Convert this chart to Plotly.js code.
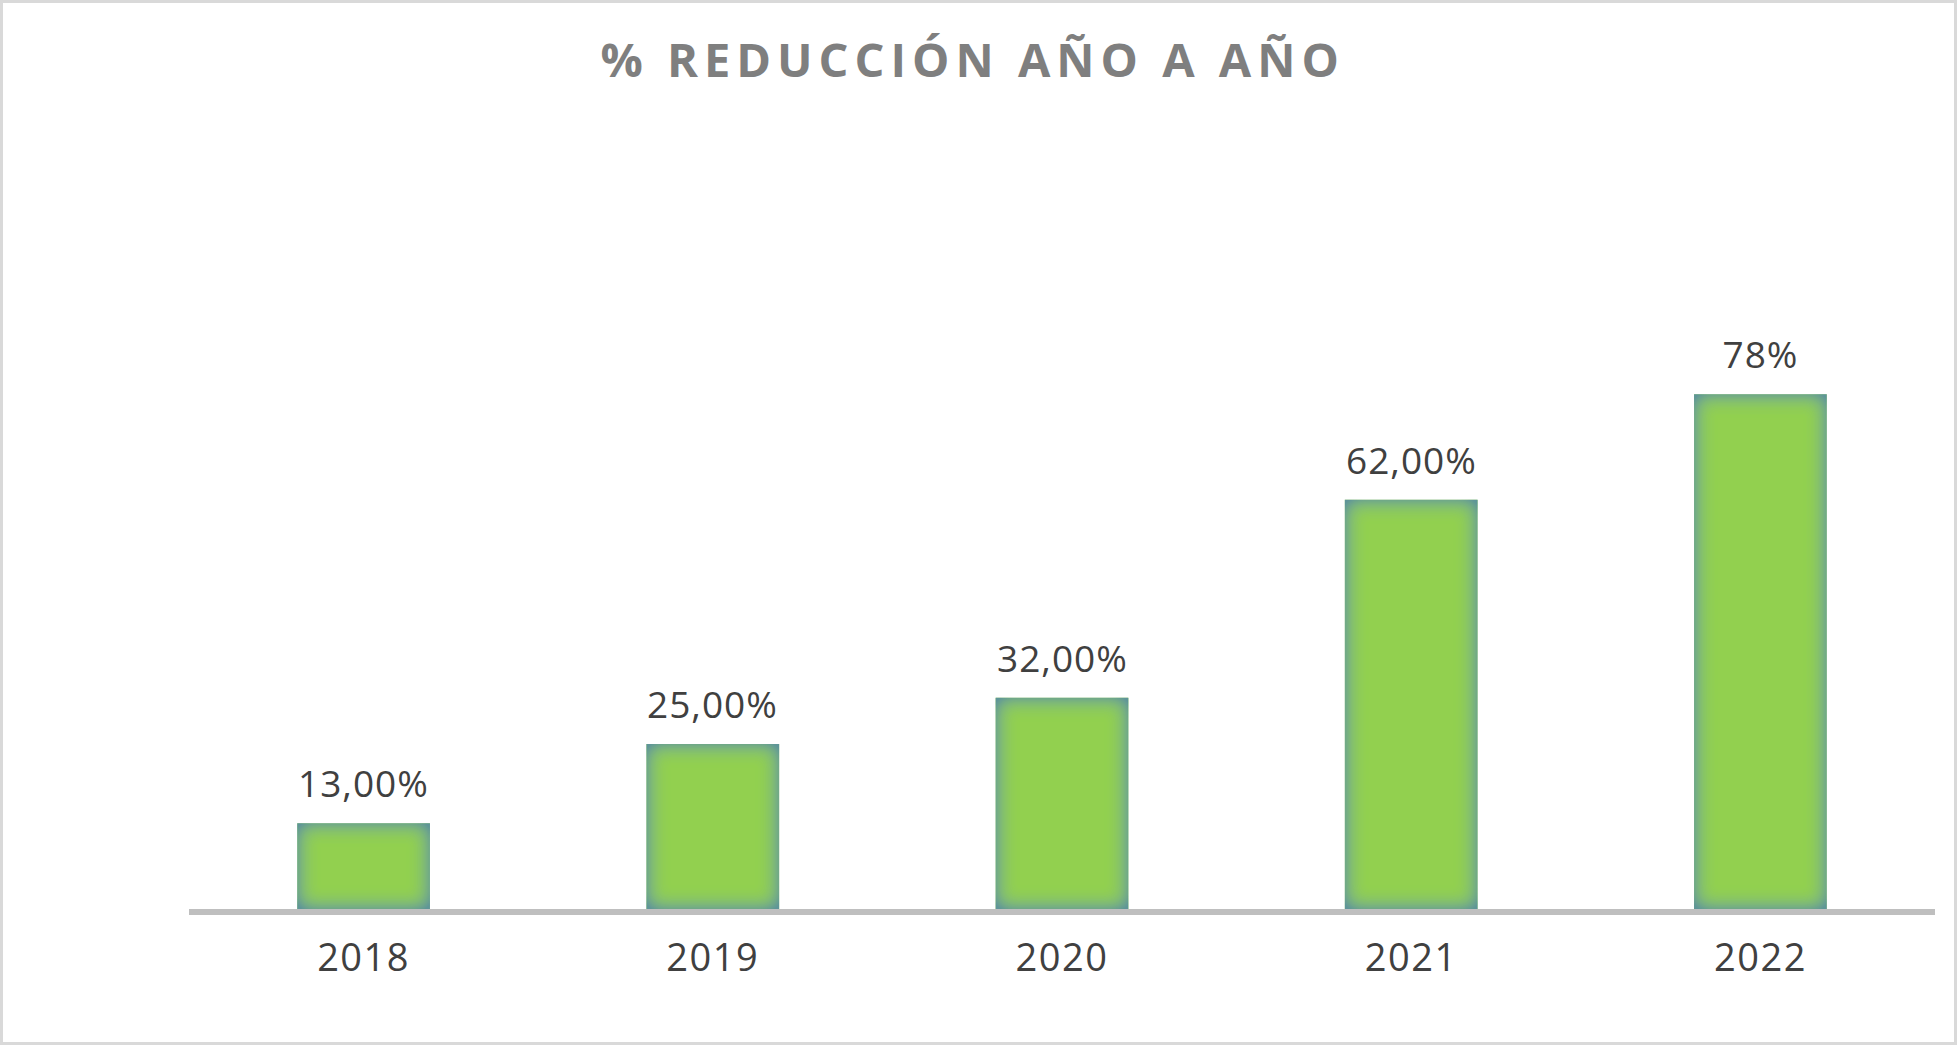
<!DOCTYPE html>
<html>
<head>
<meta charset="utf-8">
<script src="https://cdn.plot.ly/plotly-3.0.1.min.js"></script>
<style>
  html, body { margin: 0; padding: 0; background: #ffffff; }
  #chart { width: 1957px; height: 1045px; }
  #frame { position: absolute; left: 0; top: 0; width: 1957px; height: 1045px; box-sizing: border-box;
           border: 3px solid #d9d9d9; pointer-events: none; }
  #chart .gtitle { letter-spacing: 6px; }
  #chart .xtick text { letter-spacing: 1.5px; }
  #chart .annotation-text { letter-spacing: 1px; }
</style>
</head>
<body>
<svg width="0" height="0" style="position:absolute">
  <defs>
    <filter id="barGlow" x="0" y="0" width="1" height="1">
      <feFlood flood-color="#5f9598" result="edgeColor"/>
      <feGaussianBlur in="SourceAlpha" stdDeviation="10" result="blurAlpha"/>
      <feComponentTransfer in="blurAlpha" result="steepAlpha">
        <feFuncA type="linear" slope="1.5" intercept="-0.5"/>
      </feComponentTransfer>
      <feComposite in="edgeColor" in2="steepAlpha" operator="out" result="edge"/>
      <feComposite in="edge" in2="SourceAlpha" operator="in" result="edgeIn"/>
      <feMerge>
        <feMergeNode in="SourceGraphic"/>
        <feMergeNode in="edgeIn"/>
      </feMerge>
    </filter>
  </defs>
</svg>
<div id="chart"></div>
<div id="frame"></div>
<script>
const years = ['2018', '2019', '2020', '2021', '2022'];
const reduction = [13, 25, 32, 62, 78];
const labels = ['13,00%', '25,00%', '32,00%', '62,00%', '78%'];

const trace = {
    type: 'bar',
    x: years,
    y: reduction,
    marker: { color: '#92d050', line: { width: 0 } },
    hoverinfo: 'none'
};

// value labels sit well above the bars, so draw them as annotations
// (x given as category index, a '2018' string would be read as index 2018)
const annotations = years.map((yr, i) => ({
    x: i, y: reduction[i], xref: 'x', yref: 'y',
    text: labels[i], showarrow: false,
    yanchor: 'bottom', yshift: 13,
    font: { family: 'Open Sans, sans-serif', size: 37, color: '#404040' }
}));

const layout = {
    width: 1957, height: 1045,
    margin: { l: 189, r: 22, t: 249, b: 136 },
    paper_bgcolor: '#ffffff', plot_bgcolor: '#ffffff',
    showlegend: false,
    bargap: 0.62,
    title: {
        text: '% REDUCCIÓN AÑO A AÑO',
        font: { family: 'Open Sans, sans-serif', size: 47, color: '#7f7f7f', weight: 700 },
        x: 0.497, xanchor: 'center',
        yref: 'container', y: 1 - 61 / 1045, yanchor: 'middle'
    },
    xaxis: {
        type: 'category',
        range: [-0.5, years.length - 0.5],
        showline: true, linecolor: '#bfbfbf', linewidth: 6,
        showgrid: false, zeroline: false, ticks: '',
        ticklabelstandoff: 10,
        tickfont: { family: 'Open Sans, sans-serif', size: 38, color: '#404040' }
    },
    yaxis: {
        range: [0, 100],
        visible: false, showgrid: false, zeroline: false
    },
    annotations: annotations
};

Plotly.newPlot('chart', [trace], layout, { displayModeBar: false, staticPlot: true }).then(() => {
    document.querySelectorAll('#chart .bars path').forEach(p => { p.style.filter = 'url(#barGlow)'; });
});
</script>
</body>
</html>
